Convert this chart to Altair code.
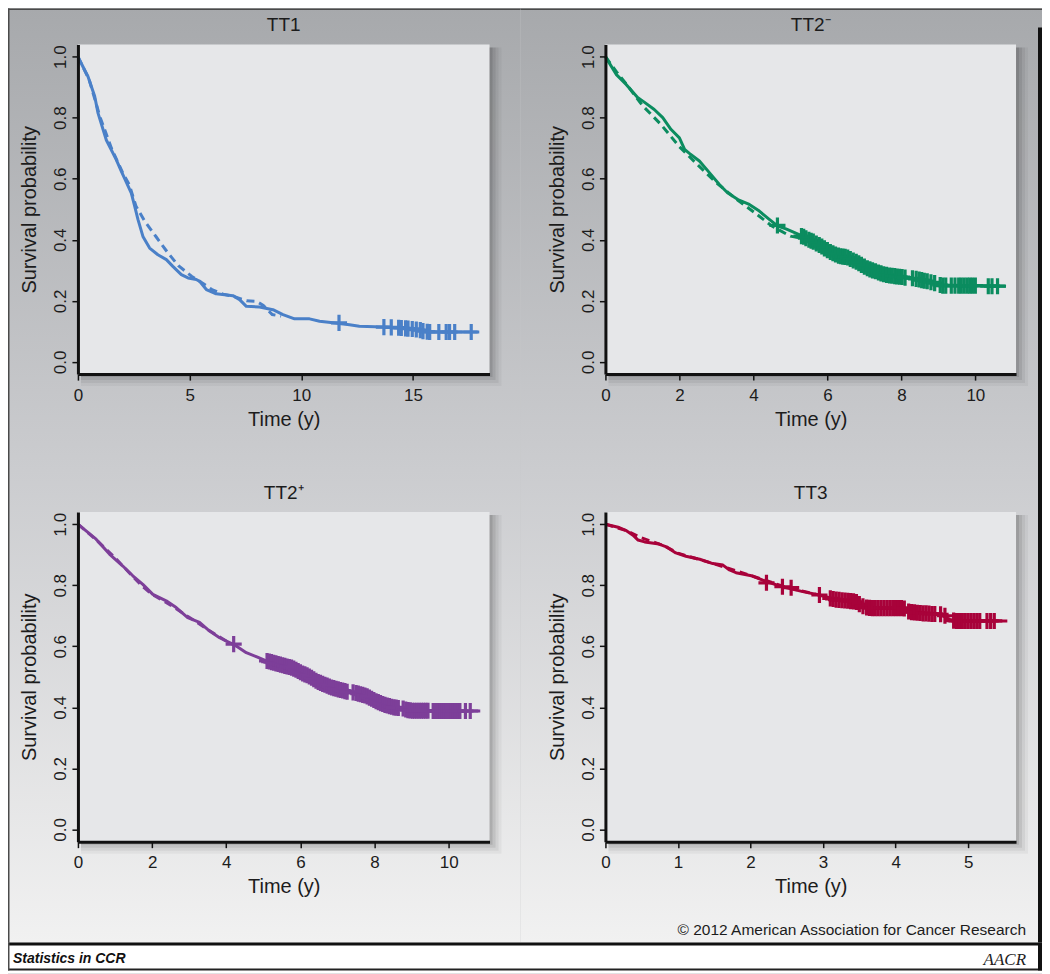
import altair as alt
import pandas as pd

FONT = "Liberation Sans"
INK = "#1c1c1c"

# ---------------- text ----------------
panel_titles = ["TT1", "TT2\u207b", "TT2\u207a", "TT3"]
x_title = "Time (y)"
y_title = "Survival probability"
copyright_text = "\u00a9 2012 American Association for Cancer Research"
footer_left = "Statistics in CCR"
footer_logo = "AACR"

# ---------------- axes ----------------
x_max = [18.43, 11.1, 11.1, 5.66]
x_ticks = [[0, 5, 10, 15], [0, 2, 4, 6, 8, 10], [0, 2, 4, 6, 8, 10], [0, 1, 2, 3, 4, 5]]
y_ticks = [0.0, 0.2, 0.4, 0.6, 0.8, 1.0]
y_domain = [-0.04, 1.04]
colors = ["#4a80c8", "#0b8c5f", "#7d3f99", "#a8023a"]

# ---------------- TT1 ----------------
tt1_km = [(0, 1.0), (0.1, 0.985), (0.45, 0.935), (0.75, 0.87), (0.9, 0.815), (1.27, 0.727),
          (1.72, 0.662), (1.94, 0.625), (2.16, 0.59), (2.39, 0.553), (2.54, 0.51), (2.69, 0.466),
          (2.91, 0.411), (3.21, 0.373), (3.58, 0.351), (3.96, 0.335), (4.25, 0.313), (4.63, 0.286),
          (4.93, 0.275), (5.3, 0.27), (5.45, 0.264), (5.75, 0.237), (6.19, 0.223), (6.94, 0.217),
          (7.24, 0.204), (7.54, 0.182), (8.13, 0.18), (8.73, 0.171), (9.18, 0.155), (9.7, 0.141),
          (10.37, 0.141), (10.82, 0.133), (11.42, 0.128), (12.16, 0.122), (12.6, 0.117),
          (13.66, 0.114), (14.4, 0.111), (15.15, 0.106), (15.6, 0.099), (17.9, 0.098)]
tt1_fit = [(0, 1.0), (0.5, 0.925), (1.0, 0.8), (1.5, 0.7), (2.0, 0.62), (2.3, 0.58), (2.6, 0.51),
           (3.0, 0.46), (3.5, 0.41), (4.0, 0.36), (4.5, 0.315), (5.1, 0.28), (5.5, 0.262),
           (6.0, 0.237), (6.5, 0.222), (7.0, 0.214), (7.55, 0.2), (8.0, 0.198), (8.3, 0.185),
           (8.7, 0.155), (9.1, 0.15)]
tt1_cens = [(11.69, 0.128), (13.7, 0.114), (14.03, 0.113), (14.36, 0.112), (14.48, 0.111),
            (14.67, 0.11), (14.78, 0.109), (14.97, 0.108), (15.15, 0.106), (15.33, 0.104),
            (15.45, 0.101), (15.64, 0.099), (15.75, 0.098), (16.16, 0.098), (16.49, 0.098),
            (16.64, 0.098), (16.87, 0.098), (17.61, 0.098)]

# ---------------- TT2- ----------------
tt2m_km = [(0, 1.0), (0.29, 0.942), (0.56, 0.909), (0.87, 0.866), (1.05, 0.851), (1.32, 0.827),
           (1.55, 0.8), (1.77, 0.762), (2.0, 0.734), (2.14, 0.696), (2.27, 0.683), (2.54, 0.658),
           (2.81, 0.62), (3.08, 0.581), (3.3, 0.554), (3.58, 0.532), (3.89, 0.516), (4.16, 0.494),
           (4.43, 0.467), (4.66, 0.445), (4.88, 0.436), (5.24, 0.417), (5.6, 0.396), (5.96, 0.368),
           (6.32, 0.346), (6.68, 0.33), (7.05, 0.308), (7.41, 0.292), (7.77, 0.281), (8.13, 0.275),
           (8.49, 0.27), (8.85, 0.259), (9.12, 0.251), (9.39, 0.251), (10.83, 0.248)]
tt2m_fit = [(0, 1.0), (0.3, 0.95), (0.6, 0.905), (1.0, 0.84), (1.5, 0.778), (2.0, 0.705),
            (2.5, 0.645), (3.0, 0.587), (3.5, 0.537), (4.0, 0.492), (4.5, 0.445), (5.0, 0.412),
            (5.3, 0.405)]
tt2m_cens = [(4.65, 0.447), (5.30, 0.412), (5.36, 0.410), (5.42, 0.405), (5.50, 0.400),
             (5.56, 0.397), (5.62, 0.394), (5.70, 0.388), (5.78, 0.383), (5.85, 0.378),
             (5.92, 0.372), (6.00, 0.366), (6.08, 0.360), (6.15, 0.356), (6.22, 0.352),
             (6.30, 0.348), (6.36, 0.346), (6.42, 0.345), (6.48, 0.344), (6.55, 0.342),
             (6.62, 0.337), (6.70, 0.332), (6.78, 0.328), (6.85, 0.323), (6.92, 0.318),
             (7.00, 0.312), (7.08, 0.307), (7.15, 0.303), (7.22, 0.300), (7.30, 0.297),
             (7.38, 0.293), (7.45, 0.290), (7.52, 0.287), (7.60, 0.285), (7.68, 0.283),
             (7.75, 0.282), (7.82, 0.281), (7.88, 0.280), (7.95, 0.279), (8.02, 0.278),
             (8.10, 0.276), (8.30, 0.274), (8.40, 0.272), (8.48, 0.270), (8.55, 0.268),
             (8.62, 0.266), (8.70, 0.264), (8.80, 0.261), (8.90, 0.258), (9.05, 0.252),
             (9.12, 0.250), (9.20, 0.250), (9.35, 0.250), (9.45, 0.250), (9.55, 0.250),
             (9.62, 0.250), (9.70, 0.250), (9.78, 0.250), (9.85, 0.250), (9.92, 0.250),
             (10.00, 0.250), (10.35, 0.248), (10.45, 0.248), (10.60, 0.248)]

# ---------------- TT2+ ----------------
tt2p_km = [(0, 1.0), (0.22, 0.978), (0.49, 0.951), (0.85, 0.902), (1.21, 0.863), (1.48, 0.831),
           (1.75, 0.803), (2.02, 0.77), (2.38, 0.749), (2.65, 0.727), (2.96, 0.694), (3.28, 0.678),
           (3.55, 0.65), (3.82, 0.628), (4.09, 0.612), (4.27, 0.601), (4.54, 0.579), (4.81, 0.566),
           (5.08, 0.552), (5.5, 0.54), (5.8, 0.53), (6.2, 0.505), (6.52, 0.48), (7.0, 0.46),
           (7.42, 0.449), (7.8, 0.436), (8.05, 0.42), (8.4, 0.404), (8.77, 0.396), (9.0, 0.389),
           (10.85, 0.388)]
tt2p_fit = [(0, 1.0), (0.5, 0.948), (1.0, 0.89), (1.5, 0.826), (1.75, 0.795), (2.0, 0.77),
            (2.5, 0.735), (3.0, 0.695), (3.5, 0.655), (4.0, 0.617), (4.3, 0.6)]
tt2p_cens = [(4.20, 0.607), (5.10, 0.552), (5.16, 0.550), (5.22, 0.548), (5.28, 0.546),
             (5.34, 0.544), (5.40, 0.542), (5.46, 0.540), (5.52, 0.538), (5.58, 0.536),
             (5.64, 0.534), (5.70, 0.532), (5.76, 0.530), (5.82, 0.527), (5.88, 0.523),
             (5.94, 0.519), (6.00, 0.515), (6.06, 0.511), (6.12, 0.508), (6.18, 0.505),
             (6.24, 0.501), (6.30, 0.497), (6.36, 0.492), (6.42, 0.487), (6.48, 0.483),
             (6.54, 0.480), (6.60, 0.477), (6.66, 0.474), (6.72, 0.471), (6.78, 0.468),
             (6.84, 0.465), (6.90, 0.463), (6.96, 0.461), (7.02, 0.459), (7.08, 0.457),
             (7.14, 0.455), (7.20, 0.453), (7.26, 0.451), (7.42, 0.449), (7.50, 0.447),
             (7.56, 0.445), (7.62, 0.443), (7.68, 0.441), (7.74, 0.439), (7.80, 0.436),
             (7.86, 0.432), (7.92, 0.428), (7.98, 0.424), (8.04, 0.420), (8.10, 0.417),
             (8.16, 0.414), (8.22, 0.411), (8.28, 0.408), (8.34, 0.406), (8.40, 0.404),
             (8.46, 0.402), (8.52, 0.400), (8.58, 0.399), (8.64, 0.398), (8.77, 0.396),
             (8.84, 0.393), (8.90, 0.391), (8.96, 0.390), (9.02, 0.389), (9.08, 0.389),
             (9.14, 0.389), (9.20, 0.389), (9.26, 0.389), (9.32, 0.389), (9.38, 0.389),
             (9.44, 0.389), (9.58, 0.388), (9.64, 0.388), (9.70, 0.388), (9.76, 0.388),
             (9.82, 0.388), (9.88, 0.388), (9.94, 0.388), (10.00, 0.388), (10.06, 0.388),
             (10.12, 0.388), (10.18, 0.388), (10.24, 0.388), (10.30, 0.388), (10.45, 0.388),
             (10.58, 0.388)]

# ---------------- TT3 ----------------
tt3_km = [(0, 1.0), (0.19, 0.989), (0.28, 0.98), (0.38, 0.964), (0.45, 0.948), (0.54, 0.942),
          (0.74, 0.935), (0.84, 0.926), (0.97, 0.906), (1.11, 0.895), (1.3, 0.885), (1.48, 0.871),
          (1.62, 0.866), (1.71, 0.85), (1.8, 0.841), (2.03, 0.83), (2.22, 0.812), (2.44, 0.795),
          (2.72, 0.779), (2.95, 0.768), (3.1, 0.758), (3.3, 0.75), (3.45, 0.745), (3.55, 0.73),
          (3.7, 0.725), (4.1, 0.725), (4.2, 0.712), (4.6, 0.705), (4.75, 0.688), (4.85, 0.683),
          (5.54, 0.683)]
tt3_fit = [(0, 1.0), (0.3, 0.978), (0.5, 0.955), (0.8, 0.93), (1.0, 0.905), (1.5, 0.87),
           (2.0, 0.832), (2.5, 0.793), (3.0, 0.765)]
tt3_cens = [(2.22, 0.808), (2.44, 0.795), (2.56, 0.792), (2.95, 0.768), (3.10, 0.757),
            (3.14, 0.755), (3.18, 0.753), (3.22, 0.752), (3.26, 0.751), (3.30, 0.750),
            (3.34, 0.749), (3.38, 0.748), (3.42, 0.747), (3.46, 0.745), (3.50, 0.738),
            (3.55, 0.731), (3.60, 0.727), (3.64, 0.726), (3.68, 0.725), (3.72, 0.725),
            (3.76, 0.725), (3.80, 0.725), (3.84, 0.725), (3.88, 0.725), (3.92, 0.725),
            (3.96, 0.725), (4.00, 0.725), (4.04, 0.725), (4.08, 0.725), (4.12, 0.724),
            (4.18, 0.714), (4.22, 0.712), (4.26, 0.711), (4.30, 0.710), (4.34, 0.709),
            (4.38, 0.708), (4.42, 0.708), (4.46, 0.707), (4.50, 0.706), (4.54, 0.706),
            (4.62, 0.705), (4.68, 0.700), (4.80, 0.684), (4.84, 0.683), (4.88, 0.683),
            (4.92, 0.683), (4.96, 0.683), (5.00, 0.683), (5.04, 0.683), (5.08, 0.683),
            (5.12, 0.683), (5.16, 0.683), (5.26, 0.683), (5.31, 0.683), (5.36, 0.683)]

CROSS = "M-1,0L1,0M0,-1L0,1"
ONE = pd.DataFrame({"k": [0]})


def df(pairs):
    return pd.DataFrame(pairs, columns=["t", "s"])


def box(base, x0, x1, y0, y1, fill, opacity=1):
    return base.mark_rect(fill=fill, opacity=opacity, strokeWidth=0).encode(
        x=alt.value(x0), x2=alt.value(x1), y=alt.value(y0), y2=alt.value(y1))


def panel(i, km, fit, cens, w, h, L, T, cell_w, cell_h, g0, g1,
          left_border=False, top_border=False, right_border_from=None, extra=None):
    """Cell of size cell_w x cell_h; the plot area sits at (L, T) with size w x h."""
    col = colors[i]
    base = alt.Chart(ONE)
    layers = []
    grad = alt.LinearGradient(
        gradient="linear",
        stops=[alt.GradientStop(color=g0, offset=0), alt.GradientStop(color=g1, offset=1)],
        x1=0, x2=0, y1=0, y2=1)
    layers.append(box(base, 0, cell_w, 0, cell_h, grad))
    if top_border:
        layers.append(box(base, 0, cell_w, 0, 1.5, "#4a4a4a"))
    if left_border:
        layers.append(box(base, 0, 1.5, 0, cell_h, "#4a4a4a"))
    if right_border_from is not None:
        layers.append(box(base, cell_w - 4, cell_w, right_border_from, cell_h, "#111111"))
    # soft drop shadow
    for off, op in [(12, 0.04), (9, 0.055), (6, 0.075), (3, 0.1)]:
        layers.append(box(base, L + 3, L + w + off, T + 3, T + h + off, "black", op))
    # plot area
    layers.append(box(base, L, L + w, T, T + h, "#e6e7e9"))

    xaxis = alt.Axis(values=x_ticks[i], format="d", title=x_title, grid=False,
                     offset=-(cell_h - T - h),
                     domainColor="#111111", domainWidth=3, tickColor="#111111", tickWidth=1.5,
                     tickSize=6, labelFont=FONT, labelFontSize=17, labelColor=INK,
                     labelPadding=7, labelFlush=False, labelOverlap=False,
                     titleFont=FONT, titleFontSize=20, titleFontWeight="normal", titleColor=INK,
                     titleX=L + w / 2, titleY=51, titleAlign="center",
                     titleBaseline="alphabetic", zindex=1)
    yaxis = alt.Axis(values=y_ticks, format=".1f", title=y_title, grid=False,
                     offset=-L,
                     domainColor="#111111", domainWidth=3, tickColor="#111111", tickWidth=1.5,
                     tickSize=6, labelAngle=-90, labelAlign="center", labelBaseline="alphabetic",
                     labelPadding=6, labelFont=FONT, labelFontSize=17, labelColor=INK,
                     labelFlush=False, labelOverlap=False,
                     titleFont=FONT, titleFontSize=20, titleFontWeight="normal", titleColor=INK,
                     titleX=-42, titleY=T + h / 2, titleAlign="center",
                     titleBaseline="alphabetic", zindex=1)
    X = alt.X("t:Q", scale=alt.Scale(domain=[0, x_max[i]], range=[L, L + w], nice=False,
                                      zero=False), axis=xaxis)
    Y = alt.Y("s:Q", scale=alt.Scale(domain=y_domain, range=[T + h, T], nice=False,
                                      zero=False), axis=yaxis)

    layers.append(alt.Chart(df(fit)).mark_line(color=col, strokeWidth=3, strokeDash=[8, 5])
                  .encode(x=X, y=Y))
    layers.append(alt.Chart(df(km)).mark_line(color=col, strokeWidth=3, strokeJoin="round")
                  .encode(x=X, y=Y))
    layers.append(alt.Chart(df(cens)).mark_point(shape=CROSS, filled=False, size=260,
                                                 strokeWidth=3.2, color=col, opacity=1)
                  .encode(x=X, y=Y))
    layers.append(base.mark_text(text=panel_titles[i], font=FONT, fontSize=19, color=INK,
                                 align="center", baseline="alphabetic")
                  .encode(x=alt.value(L + w / 2), y=alt.value(T - 13)))
    if extra:
        layers.extend(extra)
    return alt.layer(*layers).properties(width=cell_w, height=cell_h)


TOP0, TOP1 = "#a7a9ac", "#cbcccf"
BOT0, BOT1 = "#cbcccf", "#f1f1f1"

copyright_layer = alt.Chart(ONE).mark_text(
    text=copyright_text, font=FONT, fontSize=15.5, color=INK, align="right",
    baseline="alphabetic"
).encode(x=alt.value(85 + 421), y=alt.value(42 + 423))

p1 = panel(0, tt1_km, tt1_fit, tt1_cens, 412, 330, 70, 36, 513, 462, TOP0, TOP1,
           left_border=True, top_border=True)
p2 = panel(1, tt2m_km, tt2m_fit, tt2m_cens, 411, 330, 85, 36, 522, 462, TOP0, TOP1,
           top_border=True, right_border_from=19)
p3 = panel(2, tt2p_km, tt2p_fit, tt2p_cens, 412, 330, 70, 42, 513, 473, BOT0, BOT1,
           left_border=True)
p4 = panel(3, tt3_km, tt3_fit, tt3_cens, 411, 330, 85, 42, 522, 473, BOT0, BOT1,
           right_border_from=0, extra=[copyright_layer])

fb = alt.Chart(ONE)
footer = alt.layer(
    box(fb, 0, 1035, 0, 31, "white"),
    box(fb, 0, 1035, 0, 3, "#111111"),
    box(fb, 0, 1035, 26, 28, "#222222"),
    box(fb, 0, 1.5, 0, 28, "#4a4a4a"),
    box(fb, 1031, 1035, 0, 28, "#111111"),
    fb.mark_text(text=footer_left, font=FONT, fontSize=14, fontWeight="bold",
                 fontStyle="italic", color="#111111", align="left", baseline="alphabetic")
    .encode(x=alt.value(5), y=alt.value(20)),
    fb.mark_text(text=footer_logo, font="Liberation Serif", fontSize=17, fontStyle="italic",
                 color="#222222", align="right", baseline="alphabetic")
    .encode(x=alt.value(1019), y=alt.value(22)),
).properties(width=1035, height=31)

chart = alt.vconcat(
    alt.hconcat(p1, p2, spacing=0),
    alt.hconcat(p3, p4, spacing=0),
    footer,
    spacing=0,
    padding=0,
    background="#c6c7c9",
).configure_view(stroke=None).configure_concat(spacing=0)

chart.save("out.html", embed_options={"renderer": "svg", "actions": False})
